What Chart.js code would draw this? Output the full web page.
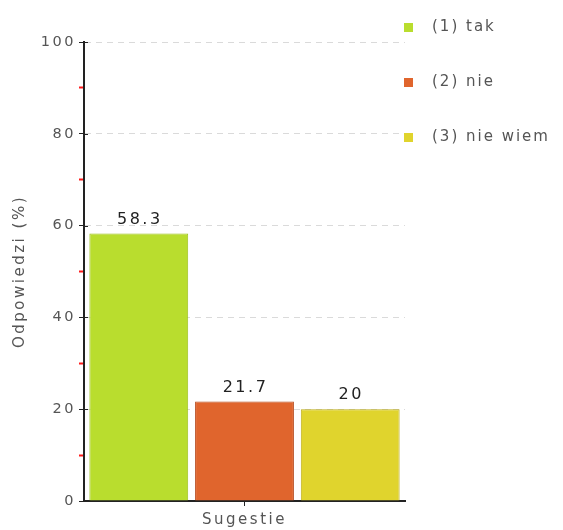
<!DOCTYPE html>
<html>
<head>
<meta charset="utf-8">
<script src="https://cdn.jsdelivr.net/npm/chart.js@4"></script>
<style>
  html, body { margin: 0; padding: 0; background: #fff; }
  canvas { display: block; }
</style>
</head>
<body>
<canvas id="chart" width="563" height="530"></canvas>
<script>
const categories = ["Sugestie"];
const seriesLabels = ["(1) tak", "(2) nie", "(3) nie wiem"];
const seriesValues = [[58.3], [21.7], [20]];
const seriesColors = ["#b9dd2e", "#e0652d", "#e0d42d"];
const seriesBorders = ["#9bbf1b", "#b6481b", "#bcad17"];
const yMin = 0;
const yMax = 100;
const yStep = 10;     // minor ticks every 10, labels every 20
const yLabelStep = 20;
const yTitle = "Odpowiedzi (%)";

const FONT = "'DejaVu Sans', Verdana, sans-serif";
const SPACING = "2.5px";

Chart.defaults.font.family = FONT;
Chart.defaults.font.size = 14;
Chart.defaults.color = "#555";

// old flash-style charts had wide letter spacing
const spacingPlugin = {
  id: "spacing",
  beforeUpdate(chart) { chart.ctx.letterSpacing = SPACING; },
  beforeDraw(chart) { chart.ctx.letterSpacing = SPACING; }
};

// major ticks cross the y axis a bit
const innerTicks = {
  id: "innerTicks",
  afterDraw(chart) {
    const { ctx, chartArea, scales } = chart;
    const y = scales.y;
    ctx.save();
    ctx.strokeStyle = "#222";
    ctx.lineWidth = 1;
    for (let v = yMin; v <= yMax; v += yLabelStep) {
      const py = Math.round(y.getPixelForValue(v)) + 0.5;
      ctx.beginPath();
      ctx.moveTo(chartArea.left, py);
      ctx.lineTo(chartArea.left + 4, py);
      ctx.stroke();
    }
    ctx.restore();
  }
};

const valueLabels = {
  id: "valueLabels",
  afterDatasetsDraw(chart) {
    const ctx = chart.ctx;
    ctx.save();
    ctx.letterSpacing = "2.5px";
    ctx.font = "16px " + FONT;
    ctx.fillStyle = "#222";
    ctx.textAlign = "center";
    ctx.textBaseline = "middle";
    chart.data.datasets.forEach((ds, i) => {
      chart.getDatasetMeta(i).data.forEach((bar, j) => {
        ctx.fillText(String(ds.data[j]), bar.x + 1, bar.y - 14);
      });
    });
    ctx.restore();
  }
};

const sideLegend = {
  id: "sideLegend",
  afterDraw(chart) {
    const ctx = chart.ctx;
    ctx.save();
    ctx.letterSpacing = "2px";
    ctx.font = "15px " + FONT;
    ctx.textBaseline = "middle";
    ctx.textAlign = "left";
    chart.data.datasets.forEach((ds, i) => {
      const cy = 27 + i * 55;
      ctx.fillStyle = ds.backgroundColor;
      ctx.fillRect(404, cy - 4, 9, 9);
      ctx.fillStyle = "#555";
      ctx.fillText(ds.label, 432, cy);
    });
    ctx.restore();
  }
};

const datasets = seriesLabels.map((label, i) => ({
  label: label,
  data: seriesValues[i],
  backgroundColor: seriesColors[i],
  borderColor: seriesBorders[i],
  borderWidth: 1,
  categoryPercentage: 0.988,
  barPercentage: 0.935
}));

const isMajor = c => c.tick && c.tick.value % yLabelStep === 0;

new Chart(document.getElementById("chart"), {
  type: "bar",
  data: { labels: categories, datasets: datasets },
  options: {
    responsive: false,
    animation: false,
    layout: { padding: { top: 42, right: 158, bottom: 0, left: 0 } },
    plugins: {
      legend: { display: false },
      tooltip: { enabled: false }
    },
    scales: {
      x: {
        offset: true,
        grid: { offset: false, drawOnChartArea: false, tickLength: 5, tickColor: "#222" },
        border: { color: "#222", width: 2 },
        ticks: { color: "#555", padding: 5, font: { size: 15 } },
        afterFit: s => { s.height = 29; }
      },
      y: {
        min: yMin,
        max: yMax,
        ticks: {
          stepSize: yStep,
          autoSkip: false,
          padding: 3,
          color: "#555",
          font: { size: 14.5 },
          callback: v => (v % yLabelStep === 0 ? v : "")
        },
        grid: {
          color: c => (isMajor(c) && c.tick.value > yMin) ? "#dadada" : "rgba(0,0,0,0)",
          tickColor: c => isMajor(c) ? "#222" : "#ff1a1a",
          tickWidth: c => isMajor(c) ? 1 : 2,
          tickLength: 5,
          lineWidth: 1
        },
        border: { color: "#222", width: 2, dash: [6, 5] },
        title: {
          display: true,
          text: yTitle,
          color: "#555",
          font: { size: 15 },
          padding: { top: 11, bottom: 0 }
        },
        afterFit: s => { s.width = 84; }
      }
    }
  },
  plugins: [spacingPlugin, innerTicks, valueLabels, sideLegend]
});
</script>
</body>
</html>
